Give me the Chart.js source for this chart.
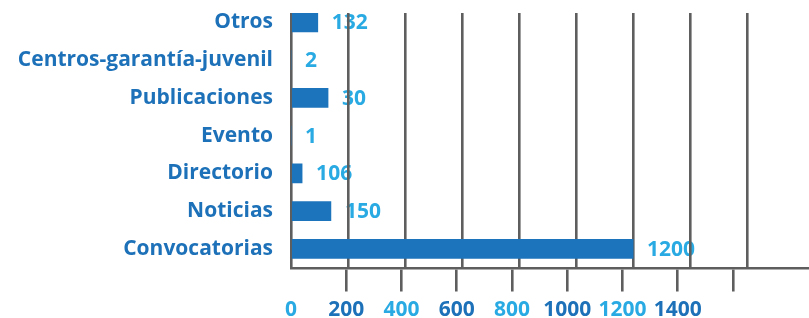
<!DOCTYPE html>
<html><head><meta charset="utf-8">
<script src="https://cdn.jsdelivr.net/npm/chart.js@4"></script>
<style>html,body{margin:0;padding:0;background:#fff;} #wrap{width:809px;height:318px;position:relative;}</style>
</head><body><div id="wrap"><canvas id="c"></canvas></div>
<script>
const categories = ['Otros','Centros-garantía-juvenil','Publicaciones','Evento','Directorio','Noticias','Convocatorias'];
const barValues = [94, 0, 130, 0, 39, 140, 1200];
const valueLabels = ['132','2','30','1','106','150','1200'];
const gridValues = [0,200,400,600,800,1000,1200,1400,1600];
const axisTickValues = [0,200,400,600,800,1000,1200,1400,1600];
const axisTickLabels = ['0','200','400','600','800','1000','1200','1400',''];

const BAR = '#1c75bc', DARK = '#1d71b8', LIGHT = '#29aae2', GRID = '#5e5e5e';
const FAMILY = "'Open Sans', sans-serif";

const valueLabelPlugin = {
  id: 'valueLabels',
  beforeDraw(chart) {
    const ctx = chart.ctx;
    const meta = chart.getDatasetMeta(0);
    ctx.save();
    ctx.font = 'bold 21px ' + FAMILY;
    ctx.fillStyle = LIGHT;
    ctx.textAlign = 'left';
    ctx.textBaseline = 'middle';
    meta.data.forEach((bar, i) => { ctx.fillText(valueLabels[i], bar.x + 14, bar.y + 1); });
    ctx.restore();
  }
};

new Chart(document.getElementById('c'), {
  type: 'bar',
  data: { datasets: [{ data: barValues.map((v, i) => ({ x: v, y: i })), backgroundColor: BAR, barThickness: 19, borderWidth: 0, xAxisID: 'x', yAxisID: 'y' }] },
  options: {
    indexAxis: 'y', responsive: true, maintainAspectRatio: false, animation: false,
    layout: { padding: { top: 13, left: 0, right: 0, bottom: 0 } },
    plugins: { legend: { display: false }, tooltip: { enabled: false } },
    scales: {
      x: {
        type: 'linear', position: 'bottom', min: 0, max: 1817, offset: false,
        afterBuildTicks: s => { s.ticks = gridValues.map(v => ({ value: v })); },
        ticks: { display: false },
        grid: { color: GRID, lineWidth: 2.6, drawTicks: false, offset: false },
        border: { display: false },
        afterFit: s => { s.height = 0; s.paddingLeft = 0; s.paddingRight = 0; }
      },
      x2: {
        type: 'linear', position: 'bottom', min: 0, max: 1875, offset: false,
        afterBuildTicks: s => { s.ticks = axisTickValues.map(v => ({ value: v })); },
        ticks: {
          callback: (v, i) => axisTickLabels[i],
          color: c => (c.index % 2 ? DARK : LIGHT),
          font: { family: FAMILY, size: 21, weight: 'bold' },
          padding: 6, maxRotation: 0, autoSkip: false
        },
        grid: { drawOnChartArea: false, offset: false, tickLength: 23, color: c => (c.index === 0 ? 'rgba(0,0,0,0)' : GRID), lineWidth: 2.6 },
        border: { display: true, color: GRID, width: 2.6 },
        afterFit: s => { s.height = 49.5; s.paddingLeft = 0; s.paddingRight = 0; }
      },
      y: {
        type: 'linear', reverse: true, min: -0.25, max: 6.52, offset: false,
        afterBuildTicks: s => { s.ticks = categories.map((_, i) => ({ value: i })); },
        ticks: {
          callback: v => categories[v],
          color: DARK,
          font: { family: FAMILY, size: 21, weight: 'bold' },
          padding: 18, autoSkip: false
        },
        grid: { display: false, drawTicks: false, offset: false },
        border: { display: false },
        afterFit: s => { s.width = 291; s.paddingTop = 0; s.paddingBottom = 0; }
      }
    }
  },
  plugins: [valueLabelPlugin]
});
</script></body></html>
